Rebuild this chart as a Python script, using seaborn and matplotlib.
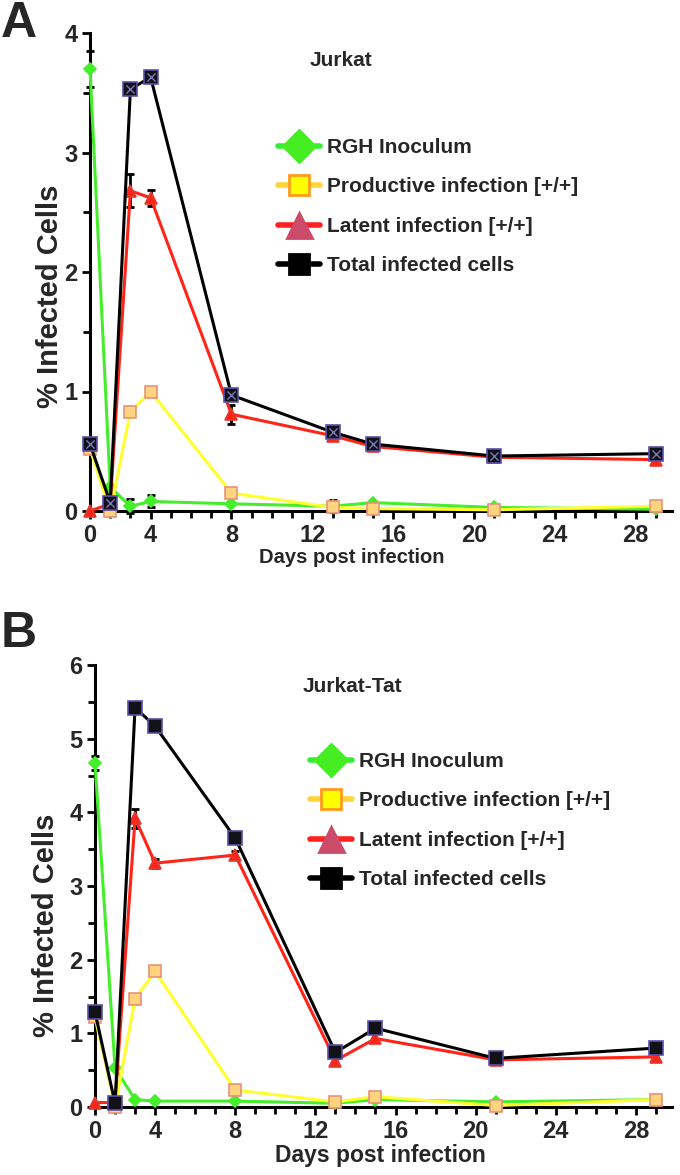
import pandas as pd
import seaborn as sns
import matplotlib
matplotlib.use("Agg")
from matplotlib import pyplot as plt
from matplotlib.lines import Line2D
from matplotlib.ticker import MultipleLocator, FixedLocator

# days of sampling (axis origin sits on day 1, labelled "0")
days = [1, 2, 3, 4, 8, 13, 15, 21, 29]
day_ticks = [1, 4, 8, 12, 16, 20, 24, 28]
day_labels = ["0", "4", "8", "12", "16", "20", "24", "28"]

series = ["RGH Inoculum", "Productive infection [+/+]",
          "Latent infection [+/+]", "Total infected cells"]

# panel A - Jurkat
a_rgh = [3.70, 0.20, 0.04, 0.08, 0.06, 0.04, 0.07, 0.03, 0.015]
a_prod = [0.52, 0.00, 0.83, 1.00, 0.15, 0.03, 0.02, 0.01, 0.04]
a_lat = [0.00, 0.06, 2.68, 2.62, 0.81, 0.63, 0.54, 0.45, 0.43]
a_tot = [0.56, 0.07, 3.53, 3.63, 0.97, 0.66, 0.56, 0.46, 0.48]
a_rgh_err = [0.15, 0, 0.06, 0.05, 0, 0.05, 0, 0, 0]
a_lat_err = [0, 0, 0.14, 0.07, 0.08, 0.03, 0, 0, 0]

# panel B - Jurkat-Tat
b_rgh = [4.67, 0.53, 0.10, 0.08, 0.08, 0.05, 0.10, 0.07, 0.10]
b_prod = [1.22, 0.00, 1.47, 1.84, 0.23, 0.07, 0.14, 0.02, 0.10]
b_lat = [0.06, 0.06, 3.92, 3.31, 3.42, 0.63, 0.93, 0.64, 0.68]
b_tot = [1.29, 0.05, 5.42, 5.17, 3.65, 0.74, 1.07, 0.66, 0.80]
b_rgh_err = [0.10, 0, 0, 0, 0, 0, 0, 0, 0]
b_lat_err = [0, 0, 0.13, 0.06, 0.06, 0, 0, 0, 0]

W, H = 680, 1175

sns.set_style("ticks")
plt.rcParams["font.family"] = ["Liberation Sans", "DejaVu Sans"]
plt.rcParams["font.weight"] = "bold"

# (line colour, marker, size, face, edge)
styles = {
    "RGH Inoculum": ("#44ee2a", "D", 6, "#44ee2a", "#44ee2a"),
    "Productive infection [+/+]": ("#ffff30", "s", 9, "#ffd47f", "#e8937a"),
    "Latent infection [+/+]": ("#ff2418", "^", 9, "#ff2418", "#e03a30"),
    "Total infected cells": ("#000000", "s", 10, "#111118", "#5a50a8"),
}
legend_styles = {
    "RGH Inoculum": ("#33ee33", "D", 16, "#44ee22", "#44ee22"),
    "Productive infection [+/+]": ("#ffd43a", "s", 14, "#ffff00", "#ff9a1a"),
    "Latent infection [+/+]": ("#ff2020", "^", 18, "#cc4a6a", "#cc4a6a"),
    "Total infected cells": ("#000000", "s", 15, "#000000", "#000000"),
}


def px_box(left, top, right, bottom):
    return [left / W, 1 - bottom / H, (right - left) / W, (bottom - top) / H]


def draw_panel(ax, vals, errs, ymax, cross, leg_anchor, xlab_size, xlab_x):
    df = pd.DataFrame({"day": days * 4,
                       "value": sum(vals, []),
                       "series": sum([[s] * len(days) for s in series], [])})
    for i, name in enumerate(series):
        col, mk, ms, fc, ec = styles[name]
        sub = df[df["series"] == name]
        sns.lineplot(data=sub, x="day", y="value", ax=ax, color=col, lw=2.2,
                     marker=mk, markersize=ms, markerfacecolor=fc,
                     markeredgecolor=ec, markeredgewidth=1.2,
                     clip_on=False, zorder=3 + i)
    if cross:
        sns.scatterplot(x=days, y=vals[3], ax=ax, marker="x", color="#7878c0",
                        s=35, linewidth=1.0, zorder=8, clip_on=False)
    for vv, ee in zip((vals[0], vals[2]), errs):
        d = [x for x, e in zip(days, ee) if e > 0]
        v = [y for y, e in zip(vv, ee) if e > 0]
        e = [e for e in ee if e > 0]
        ax.errorbar(d, v, yerr=e, fmt="none", ecolor="black", elinewidth=2,
                    capsize=3, capthick=2, zorder=2.5, clip_on=False)

    ax.set_xlim(1, 29.8)
    ax.set_ylim(0, ymax)
    ax.xaxis.set_major_locator(FixedLocator(day_ticks))
    ax.set_xticklabels(day_labels)
    ax.xaxis.set_minor_locator(MultipleLocator(1))
    ax.yaxis.set_major_locator(MultipleLocator(1))
    ax.yaxis.set_minor_locator(MultipleLocator(0.5))
    ax.tick_params(which="both", direction="out", width=2, length=6,
                   labelsize=17, pad=3, color="black")
    ax.tick_params(which="minor", length=5)
    for lab in ax.get_xticklabels() + ax.get_yticklabels():
        lab.set_fontweight("bold")
    sns.despine(ax=ax)
    for sp in ("left", "bottom"):
        ax.spines[sp].set_linewidth(2.2)
        ax.spines[sp].set_color("black")
    ax.set_xlabel("Days post infection", fontsize=xlab_size, fontweight="bold",
                  labelpad=1)
    ax.xaxis.label.set_x(xlab_x)
    ax.set_ylabel("% Infected Cells", fontsize=21, fontweight="bold")

    handles = []
    for name in series:
        col, mk, ms, fc, ec = legend_styles[name]
        handles.append(Line2D([], [], color=col, lw=4, marker=mk, markersize=ms,
                              markerfacecolor=fc, markeredgecolor=ec,
                              markeredgewidth=2))
    ax.legend(handles, series, loc="upper left", bbox_to_anchor=leg_anchor,
              frameon=False, handlelength=2.0, handletextpad=0.35,
              labelspacing=0.98, borderpad=0, borderaxespad=0,
              prop={"weight": "bold", "size": 15})


fig = plt.figure(figsize=(W / 100, H / 100), dpi=100)
ax_a = fig.add_axes(px_box(90, 33, 672, 511))
ax_b = fig.add_axes(px_box(95, 665, 672, 1107))

draw_panel(ax_a, [a_rgh, a_prod, a_lat, a_tot], [a_rgh_err, a_lat_err], 4,
           True, ((278 - 90) / 582, (511 - 138) / 478), 14.5, (352 - 90) / 582)
draw_panel(ax_b, [b_rgh, b_prod, b_lat, b_tot], [b_rgh_err, b_lat_err], 6,
           False, ((310 - 95) / 577, (1107 - 752) / 442), 16.5, (380 - 95) / 577)

ax_a.yaxis.set_label_coords((64 - 90) / 582, 0.45)
ax_b.yaxis.set_label_coords((60 - 95) / 577, 0.41)

fig.text(1 / W, 1 - 37 / H, "A", fontsize=36, fontweight="bold")
fig.text(1 / W, 1 - 647 / H, "B", fontsize=36, fontweight="bold")
fig.text(341 / W, 1 - 60 / H, "Jurkat", fontsize=15, fontweight="bold",
         ha="center", va="center")
fig.text(352 / W, 1 - 686 / H, "Jurkat-Tat", fontsize=15, fontweight="bold",
         ha="center", va="center")

fig.savefig("out.png", dpi=100)
